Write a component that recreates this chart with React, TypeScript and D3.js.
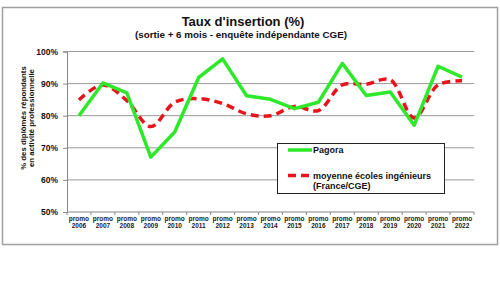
import React, { useEffect, useRef } from 'react';
import * as d3 from 'd3';

const years = ['2006', '2007', '2008', '2009', '2010', '2011', '2012', '2013', '2014', '2015', '2016', '2017', '2018', '2019', '2020', '2021', '2022'];
const pagora = [80, 90.2, 87.1, 67.1, 74.9, 91.9, 97.7, 86.2, 85.1, 82.2, 84.2, 96.3, 86.3, 87.4, 77, 95.4, 92];
const moyenne = [84.9, 89.6, 84.7, 76.6, 84.2, 85.3, 83.8, 80.6, 80, 82.9, 81.6, 89.6, 89.8, 91.2, 79.3, 89.6, 90.9];
const yTicks = [50, 60, 70, 80, 90, 100];

export default function App() {
  const ref = useRef<SVGSVGElement>(null);

  useEffect(() => {
    const svg = d3.select(ref.current);
    svg.selectAll('*').remove();
    const font = 'Liberation Sans, Arial, sans-serif';

    const left = 67, right = 474, top = 51.5, bottom = 212;

    svg.append('rect')
      .attr('x', 2.5).attr('y', 7.5).attr('width', 495).attr('height', 237)
      .attr('fill', 'white').attr('stroke', '#a0a0a0').attr('stroke-width', 1.5);

    const x = d3.scaleBand().domain(years).range([left, right]);
    const y = d3.scaleLinear().domain([50, 100]).range([bottom, top]);

    // gridlines
    svg.append('g').selectAll('line')
      .data(yTicks.slice(1))
      .enter().append('line')
      .attr('x1', left).attr('x2', right)
      .attr('y1', d => y(d)).attr('y2', d => y(d))
      .attr('stroke', '#999').attr('stroke-width', 1);

    // y axis
    const yAxis = svg.append('g')
      .attr('transform', 'translate(' + left + ',0)')
      .call(d3.axisLeft(y).tickValues(yTicks).tickSize(4).tickFormat(d => d + '%'));
    yAxis.select('.domain').attr('stroke', '#888');
    yAxis.selectAll('line').attr('stroke', '#888');
    yAxis.selectAll('text')
      .attr('font-family', font).attr('font-weight', 'bold').attr('font-size', 8.5)
      .attr('fill', '#111').attr('x', -9);

    // x axis
    const xAxis = svg.append('g')
      .attr('transform', 'translate(0,' + bottom + ')');
    xAxis.append('line').attr('x1', left).attr('x2', right)
      .attr('stroke', '#888');
    xAxis.selectAll('.tk')
      .data(years.concat(['end']))
      .enter().append('line')
      .attr('x1', (d, i) => left + i * x.bandwidth())
      .attr('x2', (d, i) => left + i * x.bandwidth())
      .attr('y1', 0).attr('y2', 3)
      .attr('stroke', '#888');
    const lbl = xAxis.selectAll('.lbl')
      .data(years)
      .enter().append('text')
      .attr('font-family', font).attr('font-weight', 'bold').attr('font-size', 6.5)
      .attr('fill', '#222').attr('text-anchor', 'middle');
    lbl.append('tspan').attr('x', d => x(d)! + x.bandwidth() / 2).attr('y', 8.5).text('promo');
    lbl.append('tspan').attr('x', d => x(d)! + x.bandwidth() / 2).attr('y', 15.5).text(d => d);

    const cx = (d: string) => x(d)! + x.bandwidth() / 2;

    const redLine = d3.line<number>()
      .x((d, i) => cx(years[i]))
      .y(d => y(d))
      .curve(d3.curveCatmullRom.alpha(0.5));
    svg.append('path')
      .attr('d', redLine(moyenne))
      .attr('fill', 'none').attr('stroke', '#e8141c').attr('stroke-width', 3.5)
      .attr('stroke-dasharray', '8,5');

    const greenLine = d3.line<number>()
      .x((d, i) => cx(years[i]))
      .y(d => y(d));
    svg.append('path')
      .attr('d', greenLine(pagora))
      .attr('fill', 'none').attr('stroke', '#2ee82a').attr('stroke-width', 3.5)
      .attr('stroke-linejoin', 'round');

    // legend
    const lg = svg.append('g');
    lg.append('rect').attr('x', 277.5).attr('y', 143.5).attr('width', 167).attr('height', 50)
      .attr('fill', 'white').attr('stroke', '#222').attr('stroke-width', 1);
    lg.append('line').attr('x1', 288).attr('x2', 312).attr('y1', 150).attr('y2', 150)
      .attr('stroke', '#2ee82a').attr('stroke-width', 3.5);
    lg.append('line').attr('x1', 288).attr('x2', 312).attr('y1', 175.5).attr('y2', 175.5)
      .attr('stroke', '#e8141c').attr('stroke-width', 3.5).attr('stroke-dasharray', '8,5');
    const lt = lg.append('g').attr('font-family', font).attr('font-weight', 'bold')
      .attr('font-size', 9).attr('fill', '#111');
    lt.append('text').attr('x', 313).attr('y', 153.3).text('Pagora');
    lt.append('text').attr('x', 313).attr('y', 179).text('moyenne écoles ingénieurs');
    lt.append('text').attr('x', 313).attr('y', 189).text('(France/CGE)');

    // titles
    svg.append('text').attr('x', 243).attr('y', 25.5).attr('text-anchor', 'middle')
      .attr('font-family', font).attr('font-weight', 'bold').attr('font-size', 13)
      .attr('fill', '#111').text("Taux d'insertion (%)");
    svg.append('text').attr('x', 241).attr('y', 38).attr('text-anchor', 'middle')
      .attr('font-family', font).attr('font-weight', 'bold').attr('font-size', 9.8)
      .attr('fill', '#111').text('(sortie + 6 mois - enquête indépendante CGE)');

    const yt = svg.append('text')
      .attr('transform', 'translate(23,118) rotate(-90)')
      .attr('text-anchor', 'middle')
      .attr('font-family', font).attr('font-weight', 'bold').attr('font-size', 7.8)
      .attr('fill', '#111');
    yt.append('tspan').attr('x', 0).attr('y', 3).text('% des diplômés répondants');
    yt.append('tspan').attr('x', 0).attr('y', 11).text('en activité professionnelle');
  }, []);

  return (
    <svg ref={ref} width={500} height={281} style={{ position: 'absolute', left: 0, top: 0 }} />
  );
}
